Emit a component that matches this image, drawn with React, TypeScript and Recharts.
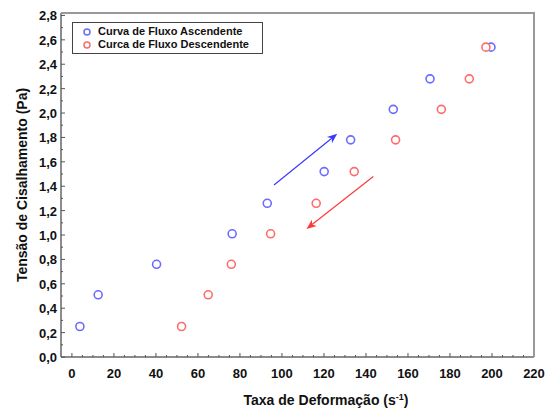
import React from 'react';
import { ScatterChart, Scatter, XAxis, YAxis, ReferenceLine, Legend } from 'recharts';

if (typeof document !== 'undefined') {
  document.body.style.margin = '0';
  document.body.style.overflow = 'hidden';
}

// Curva de Fluxo Ascendente
const ascX = [3.8, 12.5, 40.3, 76.3, 93, 120.1, 132.7, 153, 170.5, 199.5];
const ascY = [0.25, 0.51, 0.76, 1.01, 1.26, 1.52, 1.78, 2.03, 2.28, 2.54];
// Curca de Fluxo Descendente
const descX = [52.2, 64.9, 75.9, 94.6, 116.3, 134.4, 154.1, 175.9, 189.2, 197.1];
const descY = [0.25, 0.51, 0.76, 1.01, 1.26, 1.52, 1.78, 2.03, 2.28, 2.54];

const xTicks = [0, 5, 10, 15, 20, 25, 30, 35, 40, 45, 50, 55, 60, 65, 70, 75, 80, 85, 90, 95, 100, 105, 110, 115, 120, 125, 130, 135, 140, 145, 150, 155, 160, 165, 170, 175, 180, 185, 190, 195, 200, 205, 210, 215, 220];
const yTicks = [0, 0.1, 0.2, 0.3, 0.4, 0.5, 0.6, 0.7, 0.8, 0.9, 1.0, 1.1, 1.2, 1.3, 1.4, 1.5, 1.6, 1.7, 1.8, 1.9, 2.0, 2.1, 2.2, 2.3, 2.4, 2.5, 2.6, 2.7, 2.8];

const X_DOMAIN = [-5.2, 220];
const Y_DOMAIN = [0, 2.82];

// arrows (data coords): [x1, y1, x2, y2]
const blueArrow = [96.2, 1.41, 126.3, 1.83];
const redArrow = [143.5, 1.48, 111.7, 1.05];

const ascData = ascX.map((x, i) => ({ x, y: ascY[i] }));
const descData = descX.map((x, i) => ({ x, y: descY[i] }));

const BLUE = '#6b6bff';
const RED = '#ff6b6b';
const FONT = '"Liberation Sans", Arial, sans-serif';

// plot frame (layout)
const PLOT = { left: 61, top: 13, right: 534, bottom: 357 };

const isMajorX = (v: number) => Math.abs(v % 20) < 1e-6;
const isMajorY = (v: number) => Math.abs(Math.round(v * 10) % 2) === 0;

const XTick = (props: any) => {
  const { x, y, payload } = props;
  const v = payload.value;
  const major = isMajorX(v);
  return (
    <g>
      <line x1={x} y1={y} x2={x} y2={y - (major ? 4 : 2)} stroke="#555" strokeWidth={1} />
      {major && (
        <text x={x} y={y + 21} textAnchor="middle" fontFamily={FONT} fontWeight="bold" fontSize={13} fill="#111">
          {String(v)}
        </text>
      )}
    </g>
  );
};

const YTick = (props: any) => {
  const { x, y, payload } = props;
  const v = payload.value;
  const major = isMajorY(v);
  return (
    <g>
      <line x1={x} y1={y} x2={x + (major ? 4 : 2)} y2={y} stroke="#555" strokeWidth={1} />
      {major && (
        <text x={x - 4} y={y + 5} textAnchor="end" fontFamily={FONT} fontWeight="bold" fontSize={13} fill="#111">
          {v.toFixed(1).replace('.', ',')}
        </text>
      )}
    </g>
  );
};

const arrowShape = (color: string) => (props: any) => {
  const { x1, y1, x2, y2 } = props;
  if ([x1, y1, x2, y2].some((n) => typeof n !== 'number' || isNaN(n))) return <g />;
  const ang = Math.atan2(y2 - y1, x2 - x1);
  const c = Math.cos(ang);
  const s = Math.sin(ang);
  const L = 10;
  const W = 4;
  const bx = x2 - L * c;
  const by = y2 - L * s;
  const nx = x2 - 0.7 * L * c;
  const ny = y2 - 0.7 * L * s;
  const pts = [
    [x2, y2],
    [bx - W * s, by + W * c],
    [nx, ny],
    [bx + W * s, by - W * c],
  ]
    .map((p) => p.join(','))
    .join(' ');
  return (
    <g>
      <line x1={x1} y1={y1} x2={nx} y2={ny} stroke={color} strokeWidth={1.2} />
      <polygon points={pts} fill={color} />
    </g>
  );
};

const circleShape = (color: string) => (props: any) => {
  const { cx, cy } = props;
  return <circle cx={cx} cy={cy} r={4} fill="#fff" stroke={color} strokeWidth={1.6} />;
};

const LegendBox = () => (
  <div
    style={{
      border: '1px solid #444',
      background: '#fff',
      padding: '2px 6px 2px 8px',
      fontFamily: FONT,
      fontWeight: 'bold',
      fontSize: 11,
      color: '#111',
      lineHeight: '13px',
      width: 175,
    }}
  >
    {[
      { name: 'Curva de Fluxo Ascendente', color: BLUE },
      { name: 'Curca de Fluxo Descendente', color: RED },
    ].map((it) => (
      <div key={it.name} style={{ display: 'flex', alignItems: 'center', whiteSpace: 'nowrap' }}>
        <svg width={16} height={10} style={{ marginRight: 1 }}>
          <circle cx={6} cy={5} r={3} fill="#fff" stroke={it.color} strokeWidth={1.5} />
        </svg>
        <span>{it.name}</span>
      </div>
    ))}
  </div>
);

export default function App() {
  return (
    <div style={{ position: 'relative', width: 548, height: 414, overflow: 'hidden', background: '#fff' }}>
      <ScatterChart
        width={548}
        height={414}
        margin={{ top: PLOT.top, right: 548 - PLOT.right, left: 0, bottom: 0 }}
      >
        <XAxis
          type="number"
          dataKey="x"
          domain={X_DOMAIN}
          ticks={xTicks}
          interval={0}
          tickSize={0}
          tickMargin={0}
          height={414 - PLOT.bottom}
          allowDataOverflow
          axisLine={{ stroke: '#666', strokeWidth: 1.5 }}
          tickLine={false}
          tick={<XTick />}
        />
        <YAxis
          type="number"
          dataKey="y"
          domain={Y_DOMAIN}
          ticks={yTicks}
          interval={0}
          tickSize={0}
          tickMargin={0}
          width={PLOT.left}
          allowDataOverflow
          axisLine={{ stroke: '#666', strokeWidth: 1.5 }}
          tickLine={false}
          tick={<YTick />}
        />
        <Legend
          layout="vertical"
          verticalAlign="middle"
          align="center"
          wrapperStyle={{ left: 72, top: 22, width: 'auto' }}
          content={<LegendBox />}
        />
        <ReferenceLine
          segment={[{ x: blueArrow[0], y: blueArrow[1] }, { x: blueArrow[2], y: blueArrow[3] }]}
          stroke={BLUE}
          shape={arrowShape('#3a3aff')}
        />
        <ReferenceLine
          segment={[{ x: redArrow[0], y: redArrow[1] }, { x: redArrow[2], y: redArrow[3] }]}
          stroke={RED}
          shape={arrowShape('#ff3a3a')}
        />
        <Scatter name="Curva de Fluxo Ascendente" data={ascData} shape={circleShape(BLUE)} isAnimationActive={false} />
        <Scatter name="Curca de Fluxo Descendente" data={descData} shape={circleShape(RED)} isAnimationActive={false} />
      </ScatterChart>
      <svg width={548} height={414} style={{ position: 'absolute', left: 0, top: 0, pointerEvents: 'none' }}>
        <polyline
          points={`${PLOT.left},${PLOT.top} ${PLOT.right},${PLOT.top} ${PLOT.right},${PLOT.bottom}`}
          fill="none"
          stroke="#999"
          strokeWidth={2}
        />
        <text x={326} y={405} textAnchor="middle" fontFamily={FONT} fontWeight="bold" fontSize={14} fill="#111">
          Taxa de Deformação (s
          <tspan dy={-5} fontSize={9}>-1</tspan>
          <tspan dy={5}>)</tspan>
        </text>
        <text
          transform="translate(27,185) rotate(-90)"
          textAnchor="middle"
          fontFamily={FONT}
          fontWeight="bold"
          fontSize={14}
          fill="#111"
        >
          Tensão de Cisalhamento (Pa)
        </text>
      </svg>
    </div>
  );
}
